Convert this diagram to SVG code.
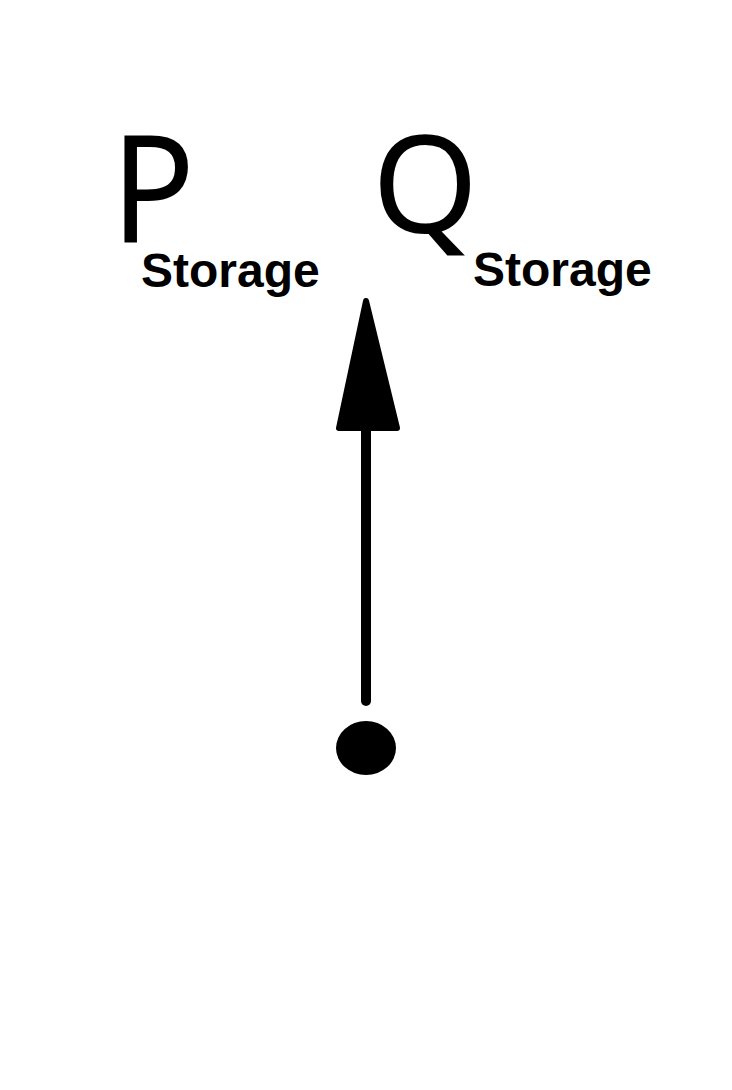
<svg xmlns="http://www.w3.org/2000/svg" width="732" height="1090" viewBox="0 0 732 1090">
<style>
.big{font-family:"Noto Sans","Open Sans",sans-serif;fill:#000}
.sub{font-family:"Liberation Sans",Arial,sans-serif;font-weight:bold;font-size:48px;fill:#000}
</style>
<rect width="732" height="1090" fill="#fff"/>
<g id="P_storage">
<text class="big" x="111" y="243" font-size="150" textLength="84" lengthAdjust="spacingAndGlyphs">P</text>
<text class="sub" x="141" y="287">Storage</text>
</g>
<g id="Q_storage">
<text class="big" x="372" y="233" font-size="136">Q</text>
<text class="sub" x="473" y="286">Storage</text>
</g>
<g id="connectors">
<line x1="366" y1="425" x2="366" y2="701" stroke="#000" stroke-width="10" stroke-linecap="round"/>
<polygon points="366,301 339,428 397,428" fill="#000" stroke="#000" stroke-width="6" stroke-linejoin="round"/>
</g>
<g id="origin">
<ellipse cx="366" cy="748" rx="30" ry="27" fill="#000"/>
</g>
</svg>
